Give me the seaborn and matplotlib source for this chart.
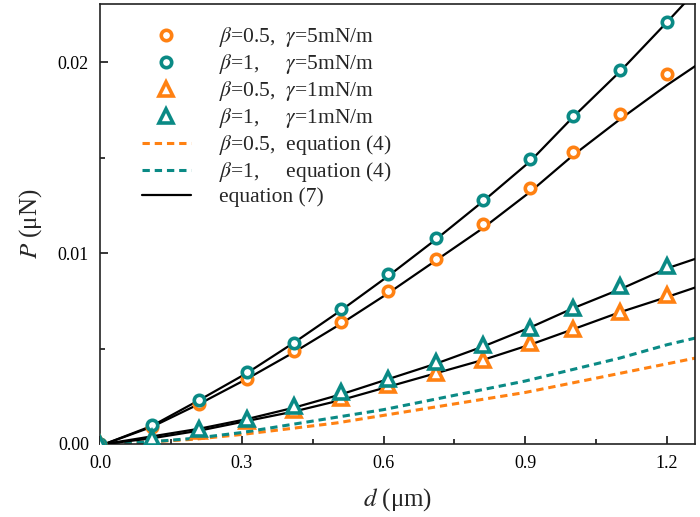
import matplotlib
matplotlib.use('Agg')
import matplotlib.pyplot as plt
import seaborn as sns
from matplotlib.ticker import MultipleLocator, FormatStrFormatter

sns.set_style('ticks')
plt.rcParams['font.family'] = ['Liberation Serif', 'DejaVu Serif']
plt.rcParams['mathtext.fontset'] = 'stix'

ORANGE = '#FF8112'
TEAL = '#0A8A85'

# ---- data ----
d_pts = [0.0, 0.11, 0.21, 0.31, 0.41, 0.51, 0.61, 0.71, 0.81, 0.91, 1.0, 1.1, 1.2]
p_b05_g5 = [0.0, 0.00089, 0.0021, 0.0034, 0.00486, 0.0064, 0.0080, 0.0097, 0.0115, 0.0134, 0.0153, 0.0173, 0.0194]
p_b1_g5 = [0.0, 0.00099, 0.0023, 0.00376, 0.0053, 0.00705, 0.0089, 0.0108, 0.0128, 0.0149, 0.0172, 0.0196, 0.0221]
p_b05_g1 = [0.0, 0.0002, 0.0007, 0.0012, 0.0018, 0.0024, 0.0031, 0.0037, 0.0044, 0.0053, 0.0060, 0.0069, 0.0078]
p_b1_g1 = [0.0, 0.0003, 0.0008, 0.0013, 0.0020, 0.0027, 0.0034, 0.0043, 0.0052, 0.0061, 0.0071, 0.0083, 0.0093]

d_eq7 = [0.01, 0.11, 0.21, 0.31, 0.41, 0.51, 0.61, 0.71, 0.81, 0.91, 1.0, 1.1, 1.2, 1.26]
eq7_b05_g5 = [0.0, 0.0009, 0.0021, 0.0034, 0.0048, 0.0063, 0.0079, 0.0096, 0.0113, 0.0132, 0.0151, 0.0170, 0.0188, 0.0198]
eq7_b1_g5 = [0.0, 0.00095, 0.0023, 0.0037, 0.0053, 0.0070, 0.0088, 0.0107, 0.0127, 0.0148, 0.0171, 0.0195, 0.0221, 0.0237]
eq7_b05_g1 = [0.0, 0.0003, 0.0007, 0.0012, 0.0017, 0.0023, 0.0030, 0.0037, 0.0044, 0.0052, 0.0060, 0.0069, 0.0077, 0.0082]
eq7_b1_g1 = [0.0, 0.0004, 0.0008, 0.0013, 0.0019, 0.0026, 0.0034, 0.0042, 0.0051, 0.0061, 0.0071, 0.0081, 0.0092, 0.0097]

d_eq4 = [0.0, 0.1, 0.2, 0.3, 0.4, 0.5, 0.6, 0.7, 0.8, 0.9, 1.0, 1.1, 1.2, 1.26]
eq4_b05 = [0.0, 0.0001, 0.00025, 0.0005, 0.0008, 0.0011, 0.0015, 0.0019, 0.0023, 0.0027, 0.0032, 0.0037, 0.0042, 0.0045]
eq4_b1 = [0.0, 0.0001, 0.0003, 0.0006, 0.0010, 0.0014, 0.0018, 0.0023, 0.0028, 0.0033, 0.0039, 0.0045, 0.0052, 0.00555]

labels = [r'$\beta$=0.5,  $\gamma$=5mN/m',
          r'$\beta$=1,     $\gamma$=5mN/m',
          r'$\beta$=0.5,  $\gamma$=1mN/m',
          r'$\beta$=1,     $\gamma$=1mN/m',
          r'$\beta$=0.5,  equation (4)',
          r'$\beta$=1,     equation (4)',
          'equation (7)']

fig = plt.figure(figsize=(7, 5.17), dpi=100)
ax = fig.add_axes([0.1429, 0.1412, 0.85, 0.851])

# dashed lines (equation 4)
sns.lineplot(x=d_eq4, y=eq4_b05, ax=ax, color=ORANGE, lw=2.2,
             linestyle=(0, (2.4, 1.6)), label=labels[4], zorder=2)
sns.lineplot(x=d_eq4, y=eq4_b1, ax=ax, color=TEAL, lw=2.2,
             linestyle=(0, (2.4, 1.6)), label=labels[5], zorder=2)

# solid lines (equation 7)
for i, yy in enumerate([eq7_b05_g5, eq7_b1_g5, eq7_b05_g1, eq7_b1_g1]):
    sns.lineplot(x=d_eq7, y=yy, ax=ax, color='black', lw=1.6,
                 label=labels[6] if i == 0 else None, zorder=3)

# markers
mk = dict(linestyle='none', markerfacecolor='white', markeredgewidth=2.6, zorder=4)
sns.lineplot(x=d_pts, y=p_b05_g5, ax=ax, marker='o', markersize=7.5,
             markeredgecolor=ORANGE, color=ORANGE, label=labels[0], **mk)
sns.lineplot(x=d_pts, y=p_b1_g5, ax=ax, marker='o', markersize=7.5,
             markeredgecolor=TEAL, color=TEAL, label=labels[1], **mk)
sns.lineplot(x=d_pts, y=p_b05_g1, ax=ax, marker='^', markersize=9.5,
             markeredgecolor=ORANGE, color=ORANGE, label=labels[2], **mk)
sns.lineplot(x=d_pts, y=p_b1_g1, ax=ax, marker='^', markersize=9.5,
             markeredgecolor=TEAL, color=TEAL, label=labels[3], **mk)

ax.set_xlim(0, 1.259)
ax.set_ylim(0, 0.02304)
ax.xaxis.set_major_locator(MultipleLocator(0.3))
ax.xaxis.set_minor_locator(MultipleLocator(0.15))
ax.yaxis.set_major_locator(MultipleLocator(0.01))
ax.yaxis.set_minor_locator(MultipleLocator(0.005))
ax.xaxis.set_major_formatter(FormatStrFormatter('%.1f'))
ax.yaxis.set_major_formatter(FormatStrFormatter('%.2f'))
ax.tick_params(which='both', direction='in', top=False, right=False,
               width=1.1, labelsize=13, colors='black')
ax.tick_params(which='major', length=6, pad=8)
ax.tick_params(which='minor', length=3.5)
for sp in ax.spines.values():
    sp.set_linewidth(1.2)
    sp.set_color('#222222')

ax.set_xlabel(r'$d$ (μm)', fontsize=18, labelpad=10)
ax.set_ylabel(r'$P$ (μN)', fontsize=18, labelpad=10)

h, l = ax.get_legend_handles_labels()
hd = dict(zip(l, h))
ax.legend([hd[t] for t in labels], labels, loc='upper left',
          bbox_to_anchor=(0.07, 0.952), frameon=False, fontsize=15.5,
          handlelength=2.3, handletextpad=1.3, labelspacing=0.14,
          borderpad=0, borderaxespad=0, numpoints=1)

fig.savefig('out.png', dpi=100)
